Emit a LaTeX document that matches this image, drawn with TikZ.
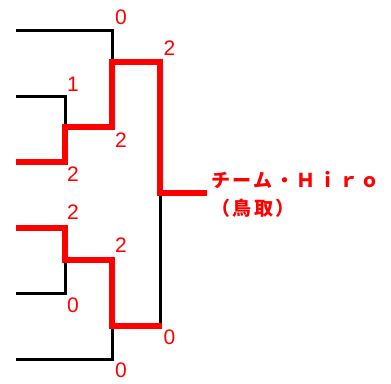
\documentclass[tikz,border=0pt]{standalone}
\usepackage{fontspec}
\setmainfont{Liberation Sans}
\newfontfamily\jpfont[LetterSpace=13]{Noto Sans CJK JP}
\definecolor{winred}{RGB}{255,0,0}
\tikzset{
  loseline/.style={draw=black, line width=2.25pt, line join=miter, line cap=butt},
  winline/.style={draw=winred, line width=4pt, line join=miter, line cap=butt},
  score/.style={text=winred, inner sep=0pt, font=\fontsize{15.75}{16}\selectfont},
  teamname/.style={text=winred, inner sep=0pt, anchor=base west, font=\jpfont\bfseries\fontsize{14.25}{16}\selectfont}
}
\begin{document}
\begin{tikzpicture}[x=0.75pt, y=-0.75pt]
\useasboundingbox (0,0) rectangle (391,383);
% coordinates
\coordinate (b1s) at (16,30);  \coordinate (b1c) at (112,30);
\coordinate (b2s) at (16,96);  \coordinate (b2c) at (65,96);
\coordinate (b3s) at (16,162); \coordinate (b3c) at (65,162);
\coordinate (r1) at (65,127);  \coordinate (r1e) at (112,127);
\coordinate (q1) at (112,62);  \coordinate (s1) at (160,62);
\coordinate (f) at (160,193);  \coordinate (w) at (207,193);
\coordinate (b4s) at (16,228); \coordinate (b4c) at (65,228);
\coordinate (r2) at (65,260);  \coordinate (r2e) at (112,260);
\coordinate (b5s) at (16,293); \coordinate (b5c) at (65,293);
\coordinate (q2) at (112,326); \coordinate (s2) at (161.5,326);
\coordinate (s2b) at (160,326);
\coordinate (b6s) at (16,359); \coordinate (b6c) at (112,359);
% losing lines
\draw[loseline] (b1s) -- (b1c) -- (q1);
\draw[loseline] (b2s) -- (b2c) -- (r1);
\draw[loseline] (b5s) -- (b5c) -- (r2);
\draw[loseline] (b6s) -- (b6c) -- (q2);
\draw[loseline] (s2b) -- (f);
% winning lines
\draw[winline] (b3s) -- (b3c) -- (r1) -- (r1e) -- (q1) -- (s1) -- (f) -- (w);
\draw[winline] (b4s) -- (b4c) -- (r2) -- (r2e) -- (q2) -- (s2);
% scores
\node[score] (l1) at (121,17.5) {0};
\node[score] (l2) at (169.5,48.5) {2};
\node[score] (l3) at (73,84) {1};
\node[score] (l4) at (121,140.5) {2};
\node[score] (l5) at (73,174) {2};
\node[score] (l6) at (73,212.5) {2};
\node[score] (l7) at (121,245.5) {2};
\node[score] (l8) at (73,305.5) {0};
\node[score] (l9) at (169.5,337.5) {0};
\node[score] (l10) at (121,370.5) {0};
% team name
\node[teamname] (t1) at (211,187) {チーム・Ｈｉｒｏ};
\node[teamname] (t2) at (211,215) {（鳥取）};
\end{tikzpicture}
\end{document}
